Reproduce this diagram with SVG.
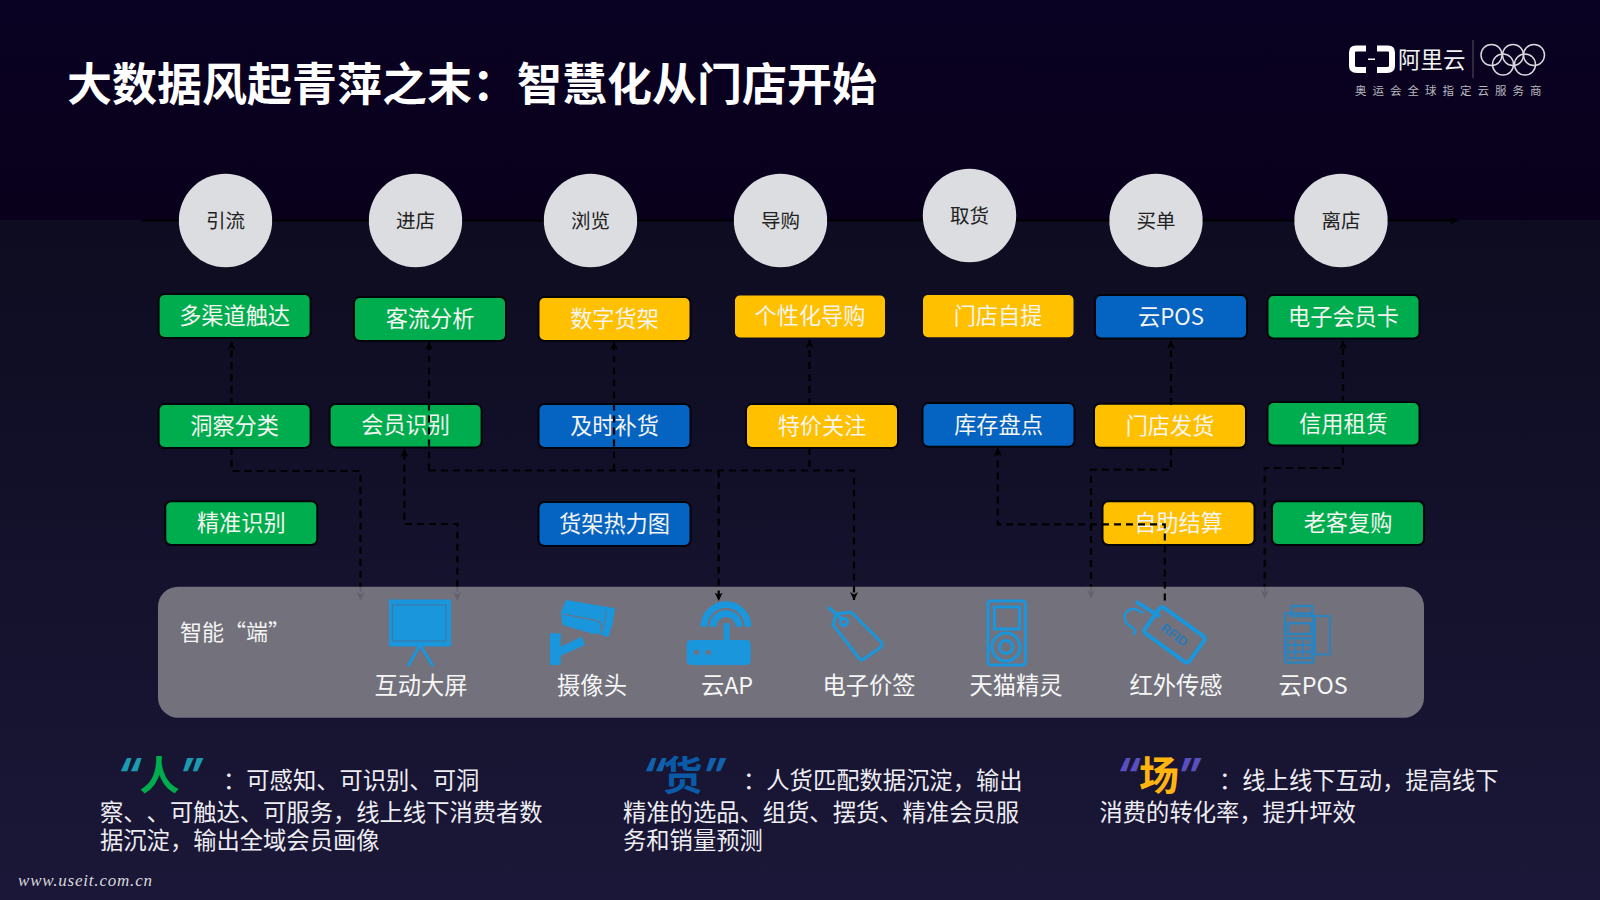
<svg xmlns="http://www.w3.org/2000/svg" width="1600" height="900" viewBox="0 0 1600 900">
<defs>
<linearGradient id="bgTop" x1="0" y1="0" x2="0" y2="1"><stop offset="0" stop-color="#0a0222"/><stop offset="1" stop-color="#09001c"/></linearGradient>
<linearGradient id="bgLow" x1="0" y1="0" x2="0" y2="1"><stop offset="0" stop-color="#0d0c20"/><stop offset="1" stop-color="#1b1738"/></linearGradient>
<marker id="ah" markerWidth="10" markerHeight="10" refX="8" refY="5" orient="auto" markerUnits="userSpaceOnUse"><path d="M0 1L8.500 5L0 9L2.500 5Z" fill="#000"/></marker>
<marker id="ahDim" markerWidth="10" markerHeight="10" refX="8" refY="5" orient="auto" markerUnits="userSpaceOnUse"><path d="M0 1L8.500 5L0 9L2.500 5Z" fill="#63626c"/></marker>
</defs>
<style>
text{font-family:"Noto Sans CJK SC","Liberation Sans",sans-serif;text-spacing-trim:space-all}
.b{stroke:#03030a;stroke-width:4;paint-order:stroke}
.g{fill:#00ad4e}.y{fill:#ffc000}.u{fill:#0563c1}
.bt{font-size:22.200px;fill:#f4f4f0;text-anchor:middle}
.c{fill:#dcdde0}
.ct{font-size:19.500px;fill:#222;text-anchor:middle}
.pl{font-size:23.300px;fill:#f6f6f6;text-anchor:middle}
.body{font-size:23.300px;fill:#ededf2}
.big{font-size:40px;font-weight:700;text-anchor:middle}
.q{font-family:Inter,"Liberation Sans",sans-serif;font-size:44px;font-weight:700;font-style:italic;text-anchor:middle}
.ic{fill:#1a96dc}
.il{fill:none;stroke:#1a96dc;stroke-width:3}
.con{fill:none;stroke:#000;stroke-width:2.200;stroke-dasharray:7 5}
.ax{fill:none;stroke:#000;stroke-width:2}
.dim{fill:none;stroke:#63626c;stroke-width:1.500;stroke-dasharray:5 3}
</style>
<rect width="1600" height="220" fill="url(#bgTop)"/>
<rect y="220" width="1600" height="680" fill="url(#bgLow)"/>
<text id="title" x="67" y="101" font-size="45" font-weight="700" fill="#fff">大数据风起青萍之末：智慧化从门店开始</text>

<g id="logo">
<path d="M1366 48.500H1356Q1352 48.500 1352 52.500V66Q1352 70 1357 70H1366M1377 48.500H1388Q1392 48.500 1392 52.500V66Q1392 70 1387 70H1377" fill="none" stroke="#fff" stroke-width="6"/>
<rect x="1368" y="58.500" width="7" height="1.500" fill="#fff"/>
<text x="1398" y="68" font-size="22.500" fill="#f2f2f2">阿里云</text>
<rect x="1472.500" y="40" width="1" height="38" fill="#55525f"/>
<g fill="none" stroke="#d8d8dc" stroke-width="1.500"><circle cx="1491.500" cy="55" r="10.500"/><circle cx="1513" cy="55" r="10.500"/><circle cx="1534" cy="55" r="10.500"/><circle cx="1503" cy="64.500" r="10.500"/><circle cx="1525" cy="64.500" r="10.500"/></g>
<text x="1355" y="95" font-size="11.500" fill="#b8b8be" letter-spacing="6">奥运会全球指定云服务商</text>
</g>

<g id="panel"><rect x="158" y="586.700" width="1266" height="131" rx="20" fill="#72717c"/>
<text x="180" y="640" font-size="22" fill="#f4f4f4">智能“端”</text></g>

<g id="stage-1"><circle class="c" cx="225.500" cy="220.500" r="46.700"/><text class="ct" x="225.500" y="228">引流</text></g>
<g id="stage-2"><circle class="c" cx="415.500" cy="220.500" r="46.700"/><text class="ct" x="415.500" y="228">进店</text></g>
<g id="stage-3"><circle class="c" cx="590.500" cy="220.500" r="46.700"/><text class="ct" x="590.500" y="228">浏览</text></g>
<g id="stage-4"><circle class="c" cx="780.500" cy="220.500" r="46.700"/><text class="ct" x="780.500" y="228">导购</text></g>
<g id="stage-5"><circle class="c" cx="969.500" cy="215.500" r="46.700"/><text class="ct" x="969.500" y="223">取货</text></g>
<g id="stage-6"><circle class="c" cx="1156" cy="220.500" r="46.700"/><text class="ct" x="1156" y="228">买单</text></g>
<g id="stage-7"><circle class="c" cx="1341" cy="220.500" r="46.700"/><text class="ct" x="1341" y="228">离店</text></g>

<g id="box-duoqudao"><rect class="b g" x="159.600" y="295" width="150" height="42" rx="5"/><text class="bt" x="234.600" y="324">多渠道触达</text></g>
<g id="box-keliu"><rect class="b g" x="355" y="298" width="150" height="42" rx="5"/><text class="bt" x="430" y="327">客流分析</text></g>
<g id="box-shuzi"><rect class="b y" x="539.500" y="298" width="150" height="42" rx="5"/><text class="bt" x="614.500" y="327">数字货架</text></g>
<g id="box-gexing"><rect class="y" x="735" y="295.500" width="150" height="42" rx="5"/><text class="bt" x="810" y="324">个性化导购</text></g>
<g id="box-ziti"><rect class="y" x="923" y="295" width="150.500" height="42.300" rx="5"/><text class="bt" x="998" y="324">门店自提</text></g>
<g id="box-pos"><rect class="b u" x="1096" y="296" width="150" height="41.500" rx="5"/><text class="bt" x="1171" y="324.500">云POS</text></g>
<g id="box-card"><rect class="b g" x="1268.500" y="296" width="150" height="41.500" rx="5"/><text class="bt" x="1343.500" y="324.500">电子会员卡</text></g>

<g id="box-dongcha"><rect class="b g" x="159.600" y="405" width="150" height="42" rx="5"/><text class="bt" x="234.600" y="434">洞察分类</text></g>
<g id="box-huiyuan"><rect class="b g" x="330.600" y="405" width="150" height="41.500" rx="5"/><text class="bt" x="405.600" y="433">会员识别</text></g>
<g id="box-buhuo"><rect class="b u" x="539.500" y="405" width="150" height="42" rx="5"/><text class="bt" x="614.500" y="434">及时补货</text></g>
<g id="box-tejia"><rect class="b y" x="747" y="405" width="150" height="42" rx="5"/><text class="bt" x="822" y="434">特价关注</text></g>
<g id="box-kucun"><rect class="b u" x="923.500" y="404" width="150" height="41.700" rx="5"/><text class="bt" x="998.500" y="433">库存盘点</text></g>
<g id="box-fahuo"><rect class="b y" x="1095" y="404.700" width="150" height="42" rx="5"/><text class="bt" x="1170" y="433.500">门店发货</text></g>
<g id="box-zulin"><rect class="b g" x="1268.500" y="403" width="150" height="41.500" rx="5"/><text class="bt" x="1343.500" y="431.500">信用租赁</text></g>

<g id="box-jingzhun"><rect class="b g" x="166.300" y="502.300" width="150" height="41.700" rx="5"/><text class="bt" x="241.300" y="531">精准识别</text></g>
<g id="box-relitu"><rect class="b u" x="539.500" y="503" width="150" height="42" rx="5"/><text class="bt" x="614.500" y="532">货架热力图</text></g>
<g id="box-zizhu"><rect class="b y" x="1103.500" y="502.300" width="150" height="41.700" rx="5"/><text class="bt" x="1178.500" y="531">自助结算</text></g>
<g id="box-fugou"><rect class="b g" x="1273" y="502.300" width="150" height="41.700" rx="5"/><text class="bt" x="1348" y="531">老客复购</text></g>

<g id="dev-screen">
<rect class="ic" x="389" y="599.500" width="62" height="47"/>
<rect x="392.500" y="605" width="53.500" height="36" fill="#1a96dc" stroke="#3d7aa6" stroke-width="1.200"/>
<path d="M420 645L408 666M420 645L433 666" fill="none" stroke="#1a96dc" stroke-width="3"/>
<text class="pl" x="421" y="694">互动大屏</text>
</g>
<g id="dev-camera">
<g transform="translate(540 590) scale(.3333)">
<path class="ic" d="M30 130H62V170L125 140L135 165L62 197V225H30Z"/>
<path class="ic" d="M78 30L225 55L218 100L205 142L170 130L160 132L68 105L62 70Z"/>
<path d="M68 72L172 92Q192 100 182 130" fill="none" stroke="#72717c" stroke-width="3.500"/>
<path d="M198 62L190 120" fill="none" stroke="#72717c" stroke-width="3"/>
</g>
<text class="pl" x="592" y="694">摄像头</text>
</g>
<g id="dev-ap">
<g transform="translate(540 590) scale(.3333)">
<rect class="ic" x="440" y="150" width="192" height="75" rx="13"/>
<rect class="ic" x="551" y="100" width="18" height="55"/>
<path d="M492 110A66 66 0 0 1 624 110" fill="none" stroke="#1a96dc" stroke-width="20"/>
<path d="M519 110A39 39 0 0 1 597 110" fill="none" stroke="#1a96dc" stroke-width="20"/>
<circle cx="470" cy="187" r="8" fill="#72717c"/><circle cx="505" cy="187" r="8" fill="#72717c"/>
</g>
<text class="pl" x="727" y="694">云AP</text>
</g>
<g id="dev-tag">
<path class="il" d="M833 625L836 614L851 612L881 642Q883 645 881 647L864 659Q861 661 859 658Z"/>
<circle class="il" cx="844" cy="622" r="3.500"/>
<path class="il" d="M828 607L843 620"/>
<text class="pl" x="869" y="694">电子价签</text>
</g>
<g id="dev-genie">
<rect class="il" x="988" y="601" width="37.500" height="64" rx="3"/>
<rect class="il" x="994.500" y="607" width="25" height="22" stroke-width="2"/>
<ellipse class="il" cx="1006" cy="647" rx="14" ry="14" stroke-width="2.500"/>
<circle class="il" cx="1006" cy="647" r="6.500" stroke-width="2"/>
<text class="pl" x="1016" y="694">天猫精灵</text>
</g>
<g id="dev-rfid">
<g transform="translate(1110 590) scale(.3333)">
<g transform="rotate(36 190 135)">
<rect x="110" y="85" width="165" height="95" rx="10" fill="none" stroke="#1a96dc" stroke-width="12"/>
<text x="192" y="146" font-size="38" font-weight="700" fill="#2a7ab8" text-anchor="middle" style="font-family:'Liberation Sans',sans-serif">RFID</text>
</g>
<path d="M78 35L150 80" stroke="#1a96dc" stroke-width="12" fill="none"/>
<path d="M100 70C60 40 30 70 50 100C65 115 85 115 70 135" fill="none" stroke="#1a96dc" stroke-width="7"/>
</g>
<text class="pl" x="1176" y="694">红外传感</text>
</g>
<g id="dev-pos">
<g transform="translate(1110 590) scale(.3333)" fill="none" stroke="#2a84c0" stroke-width="7">
<rect x="525" y="70" width="85" height="148" rx="6"/>
<rect x="545" y="48" width="62" height="30"/>
<rect x="534" y="100" width="70" height="32"/>
<rect x="615" y="78" width="45" height="115" stroke-width="6"/>
<path d="M534 145H602V205H534ZM556 145V205M579 145V205M534 165H602M534 185H602" stroke-width="6"/>
</g>
<text class="pl" x="1313" y="694">云POS</text>
</g>

<g id="connectors">
<path class="ax" d="M142 220.500H178.800M272.200 220.500H368.800M462.200 220.500H543.800M637.200 220.500H733.800M827.200 220.500H922.800M1016.200 220.500H1109.300M1202.700 220.500H1294.300"/>
<path class="ax" marker-end="url(#ah)" d="M1387.700 220.500H1458"/>
<path class="con" marker-end="url(#ah)" d="M231.500 405V342"/>
<path class="con" d="M231.500 448V471H360.500V586.700"/>
<path class="con" marker-end="url(#ah)" d="M457.400 586.700V524H404.300V449"/>
<path class="con" marker-end="url(#ah)" d="M429 470.500V342"/>
<path class="con" marker-end="url(#ah)" d="M429 470.500H854V600"/>
<path class="con" marker-end="url(#ah)" d="M718.700 470.500V600.500"/>
<path class="con" marker-end="url(#ah)" d="M614 470.500V342"/>
<path class="con" marker-end="url(#ah)" d="M809.500 405V340"/>
<path class="con" d="M809.500 448V470.500"/>
<path class="con" marker-end="url(#ah)" d="M1171 405V341"/>
<path class="con" d="M1171 448V469.700H1091V586.700"/>
<path class="con" marker-end="url(#ah)" d="M1343 403V341"/>
<path class="con" d="M1343 446V468H1264.700V586.700"/>
<path class="con" marker-end="url(#ah)" d="M1164.800 600.500V524.300H997.800V448"/>
<path class="dim" marker-end="url(#ahDim)" d="M360.500 586.700V600"/>
<path class="dim" marker-end="url(#ahDim)" d="M457.400 586.700V600"/>
<path class="dim" marker-end="url(#ahDim)" d="M1091 586.700V598"/>
<path class="dim" marker-end="url(#ahDim)" d="M1264.700 586.700V598"/>
</g>

<g id="note-people">
<text class="q" x="129" y="790" fill="#1a9bb0">“</text><text class="big" x="159.500" y="790" fill="#00ad4e">人</text><text class="q" x="191" y="790" fill="#1a9bb0">”</text>
<text class="body" x="223" y="789">：可感知、可识别、可洞</text>
<text class="body" x="100" y="821">察、、可触达、可服务，线上线下消费者数</text>
<text class="body" x="100" y="849">据沉淀，输出全域会员画像</text>
</g>
<g id="note-goods">
<text class="q" x="654" y="790" fill="#1162ae">“</text><text class="big" x="682.500" y="790" fill="#0a5aa8">货</text><text class="q" x="714" y="790" fill="#1162ae">”</text>
<text class="body" x="743" y="789">：人货匹配数据沉淀，输出</text>
<text class="body" x="623" y="821">精准的选品、组货、摆货、精准会员服</text>
<text class="body" x="623" y="849">务和销量预测</text>
</g>
<g id="note-venue">
<text class="q" x="1128" y="790" fill="#5a4fc0">“</text><text class="big" x="1159" y="790" fill="#ffb40f">场</text><text class="q" x="1189" y="790" fill="#5a4fc0">”</text>
<text class="body" x="1219" y="789">：线上线下互动，提高线下</text>
<text class="body" x="1099.500" y="821">消费的转化率，提升坪效</text>
</g>
<text id="watermark" x="18" y="886" font-size="17" font-style="italic" fill="#d8d8dc" style="font-family:'Liberation Serif',serif" textLength="134">www.useit.com.cn</text>
</svg>
